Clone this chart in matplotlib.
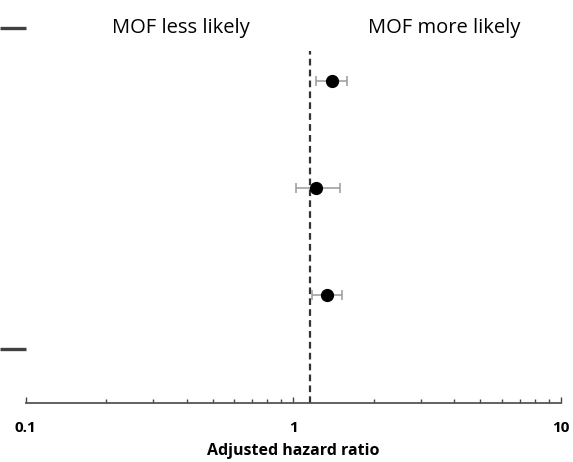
import numpy as np
import matplotlib
matplotlib.use("Agg")
import matplotlib.pyplot as plt

# hazard ratios (top to bottom)
rows = [1, 2, 3]
hr = [1.40, 1.22, 1.34]
ci_low = [1.22, 1.02, 1.17]
ci_high = [1.58, 1.49, 1.52]
ref_line = 1.15
xticks = [0.1, 1, 10]
xtick_labels = ["0.1", "1", "10"]

plt.rcParams['font.family'] = ['Open Sans', 'DejaVu Sans']

fig = plt.figure(figsize=(5.73, 4.62), dpi=100)
ax = fig.add_axes([25.7 / 573, 59 / 462, (561 - 25.7) / 573, (403 - 28) / 462])

hr = np.array(hr)
err = np.array([hr - np.array(ci_low), np.array(ci_high) - hr])
ax.errorbar(hr, rows, xerr=err, fmt='o', color='black', markersize=8.5,
            ecolor='#9a9a9a', elinewidth=1.1, capsize=3.5, capthick=1.1, zorder=3)

ax.axvline(ref_line, ymin=0, ymax=0.94, color='#333333', lw=1.6,
           linestyle=(0, (3, 1.9)), zorder=2)

ax.set_xscale('log')
ax.set_xlim(0.1, 10)
ax.set_ylim(4.01, 0.5)

ax.set_xticks(xticks)
ax.set_xticklabels(xtick_labels, fontweight='bold', fontsize=11)
ax.tick_params(axis='x', which='major', direction='in', length=4, width=1,
               color='#444444', pad=13)
ax.tick_params(axis='x', which='minor', direction='in', length=3, width=1,
               color='#444444')
ax.xaxis.set_minor_formatter(matplotlib.ticker.NullFormatter())

ax.set_yticks([0.5, 3.5])
ax.set_yticklabels([])
ax.tick_params(axis='y', direction='out', length=18.5, width=2.4, color='#404040')

for s in ['top', 'right', 'left']:
    ax.spines[s].set_visible(False)
ax.spines['bottom'].set_color('#555555')
ax.spines['bottom'].set_linewidth(1.3)

ax.set_xlabel('Adjusted hazard ratio', fontweight='bold', fontsize=11.5, labelpad=6)

fig.text(181 / 573, 1 - 28 / 462, 'MOF less likely', ha='center', va='center', fontsize=14.5)
fig.text(444 / 573, 1 - 28 / 462, 'MOF more likely', ha='center', va='center', fontsize=14.5)

fig.savefig('out.png', dpi=100)
